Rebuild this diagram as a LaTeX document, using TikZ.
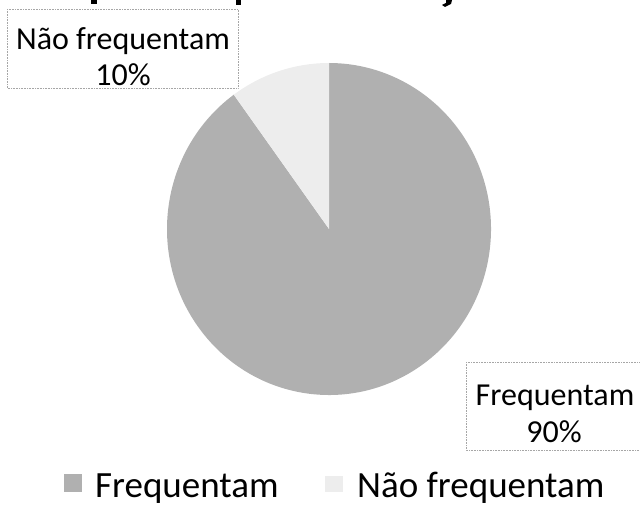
\documentclass[tikz,border=0pt]{standalone}
\usepackage{fontspec}
\setmainfont{Carlito}
\begin{document}
\begin{tikzpicture}[x=1bp,y=-1bp,
  lbl/.style={font=\fontsize{32bp}{37bp}\selectfont, anchor=base, inner sep=0pt},
  leg/.style={font=\fontsize{37bp}{42bp}\selectfont, anchor=base west, inner sep=0pt},
  lblbox/.style={draw=gray!70, densely dotted, line width=0.6bp},
  bigslice/.style={fill=gray!62},
  smallslice/.style={fill=black!7},
  blob/.style={fill=black}]
\useasboundingbox (0,0) rectangle (640,507);
% cut-off title descenders
\fill[blob] (91,0) rectangle (97,4);
\fill[blob] (236,0) rectangle (241,5);
\fill[blob] (446,0) -- (452,0) -- (451,4) -- (445,7) -- (442,5) -- (446,3) -- cycle;
% pie
\coordinate (c) at (329,229);
\fill[bigslice] (c) -- ++(-126:162 and 166) arc[start angle=-126, end angle=-450, x radius=162, y radius=166] -- cycle;
\fill[smallslice] (c) -- ++(-90:162 and 166) arc[start angle=-90, end angle=-126, x radius=162, y radius=166] -- cycle;
% data labels
\draw[lblbox] (7,9) rectangle (238,88);
\node[lbl] (l1a) at (123,50) {Não frequentam};
\node[lbl] (l1b) at (123,86) {10\%};
\draw[lblbox] (466,362) rectangle (645,450);
\node[lbl] (l2a) at (555,405) {Frequentam};
\node[lbl] (l2b) at (554,442) {90\%};
% legend
\fill[bigslice] (64,474) rectangle (82,492);
\node[leg] (g1) at (95,497) {Frequentam};
\fill[smallslice] (325,476) rectangle (343,492);
\node[leg] (g2) at (357,497) {Não frequentam};
\end{tikzpicture}
\end{document}
